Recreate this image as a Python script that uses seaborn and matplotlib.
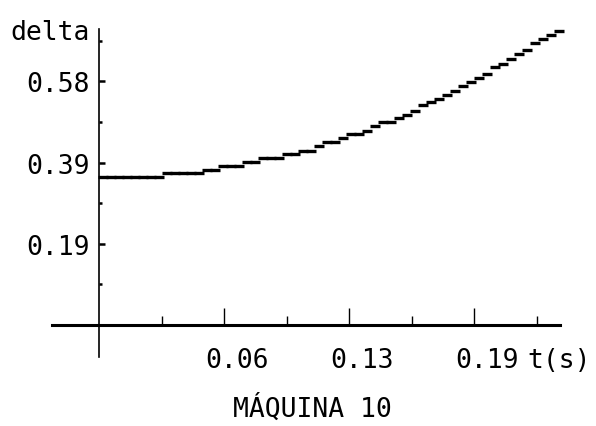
import matplotlib
matplotlib.use("Agg")
import matplotlib.pyplot as plt
import matplotlib.transforms as mtransforms
import seaborn as sns
import pandas as pd

# Rotor angle response of machine 10
t_s = [0.002, 0.006, 0.010, 0.014, 0.018, 0.022, 0.026, 0.030,
       0.034, 0.038, 0.042, 0.046, 0.050, 0.054, 0.058, 0.062,
       0.066, 0.070, 0.074, 0.078, 0.082, 0.086, 0.090, 0.094,
       0.098, 0.102, 0.106, 0.110, 0.114, 0.118, 0.122, 0.126,
       0.130, 0.134, 0.138, 0.142, 0.146, 0.150, 0.154, 0.158,
       0.162, 0.166, 0.170, 0.174, 0.178, 0.182, 0.186, 0.190,
       0.194, 0.198, 0.202, 0.206, 0.210, 0.214, 0.218, 0.222,
       0.226, 0.230]
delta = [0.353, 0.353, 0.353, 0.353, 0.353, 0.353, 0.353, 0.353,
         0.362, 0.362, 0.362, 0.362, 0.362, 0.369, 0.369, 0.379,
         0.379, 0.379, 0.388, 0.388, 0.398, 0.398, 0.398, 0.407,
         0.407, 0.415, 0.415, 0.427, 0.436, 0.436, 0.446, 0.455,
         0.455, 0.462, 0.474, 0.484, 0.484, 0.493, 0.500, 0.510,
         0.524, 0.531, 0.539, 0.548, 0.558, 0.570, 0.579, 0.589,
         0.598, 0.615, 0.622, 0.634, 0.646, 0.655, 0.672, 0.682,
         0.691, 0.701]

x_major = [0.0625, 0.125, 0.1875]
x_labels = ["0.06", "0.13", "0.19"]
x_minor = [0.03125, 0.09375, 0.15625, 0.21875]
y_major = [0.1935, 0.387, 0.5805]
y_labels = ["0.19", "0.39", "0.58"]
y_minor = [0.0968, 0.2903, 0.4838, 0.6773]

df = pd.DataFrame({"t": t_s, "delta": delta})

sns.set_style("white")
plt.rcParams["font.family"] = ["DejaVu Sans Mono", "DejaVu Sans"]
plt.rcParams["text.color"] = "black"
plt.rcParams["xtick.color"] = "black"
plt.rcParams["ytick.color"] = "black"

W, H = 596, 427
FS = 19
fig = plt.figure(figsize=(W / 100, H / 100), dpi=100)
fig.patch.set_facecolor("white")

# axes box in pixels: x 52..560, y 30..358 (top-down)
ax = fig.add_axes([52 / W, (H - 358) / H, (560 - 52) / W, (358 - 30) / H])
ax.set_facecolor("white")
ax.set_xlim(-0.0235, 0.2305)
ax.set_ylim(-0.0763, 0.7054)

sns.scatterplot(data=df, x="t", y="delta", ax=ax, marker="_", s=44,
                linewidth=2.4, color="black", clip_on=False, legend=False)

for side in ("top", "right"):
    ax.spines[side].set_visible(False)
ax.spines["left"].set_position(("data", 0))
ax.spines["bottom"].set_position(("data", 0))
ax.spines["left"].set_linewidth(1.2)
ax.spines["bottom"].set_linewidth(2.2)
ax.spines["left"].set_color("black")
ax.spines["bottom"].set_color("black")

ax.set_xticks(x_major, x_labels)
ax.set_xticks(x_minor, minor=True)
ax.set_yticks(y_major, y_labels)
ax.set_yticks(y_minor, minor=True)

ax.tick_params(axis="both", which="both", bottom=True, left=True,
               top=False, right=False, labelcolor="black", colors="black")
ax.tick_params(axis="x", which="major", direction="in", length=12, width=1.0,
               labelsize=FS, pad=16)
ax.tick_params(axis="x", which="minor", direction="in", length=6.5, width=1.0)
ax.tick_params(axis="y", which="major", direction="in", length=4.5, width=1.8,
               labelsize=FS, pad=7)
ax.tick_params(axis="y", which="minor", direction="in", length=2.2, width=1.8)

shift = mtransforms.ScaledTranslation(13 / 100, 0, fig.dpi_scale_trans)
for lab in ax.get_xticklabels():
    lab.set_transform(lab.get_transform() + shift)

ax.set_xlabel("")
ax.set_ylabel("")

fig.text(10 / W, 1 - 33 / H, "delta", fontsize=FS, ha="left", va="center")
fig.text(527 / W, 1 - 361 / H, "t(s)", fontsize=FS, ha="left", va="center")
fig.text(312 / W, 1 - 409 / H, "MÁQUINA 10", fontsize=FS, ha="center",
         va="center")

fig.savefig("out.png", dpi=100, facecolor="white")
